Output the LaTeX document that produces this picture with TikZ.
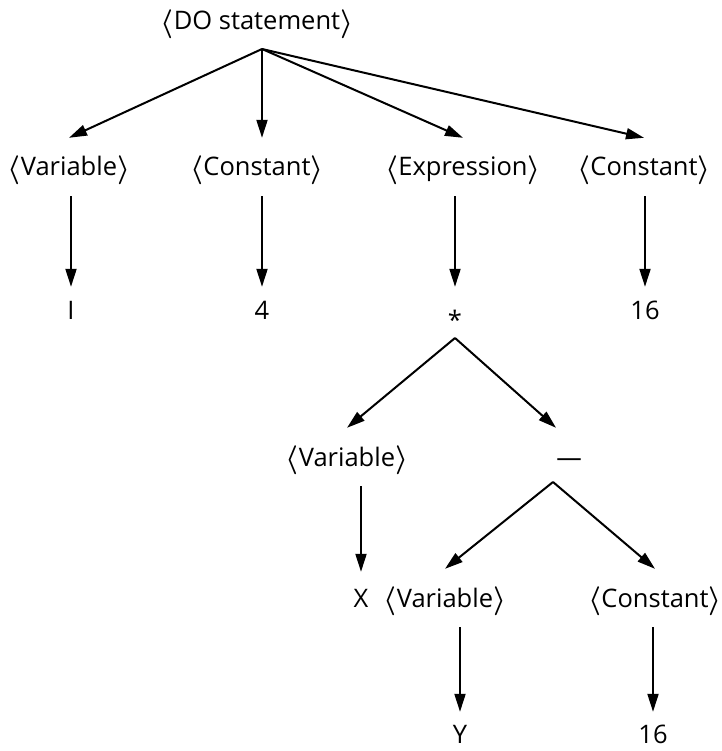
\documentclass[tikz,border=0pt]{standalone}
\usepackage{fontspec}
\setmainfont{Open Sans}
\usepackage{graphicx}
\usetikzlibrary{arrows.meta}

% angle brackets of a fixed height, centred a little below the middle of the capitals
\newsavebox\brbox
\newcommand{\angbr}[1]{%
  \sbox\brbox{\resizebox*{!}{29pt}{\boldmath$#1$}}%
  \raisebox{\dimexpr 6pt-0.5\ht\brbox+0.5\dp\brbox\relax}{\usebox\brbox}}
\newcommand{\catL}{\angbr{\langle}}
\newcommand{\catR}{\angbr{\rangle}}
\newcommand{\cat}[1]{\catL#1\catR}

\tikzset{
  lbl/.style={font=\fontsize{25.5}{29}\selectfont, inner sep=0pt,
              text height=18pt, text depth=0pt},
  nt/.style={lbl, minimum height=58pt},
  leaf/.style={lbl, minimum height=46pt},
  arr/.style={line width=2pt, -{Triangle[length=18pt,width=11pt]}},
}

\begin{document}
\begin{tikzpicture}[x=1pt, y=-1pt]
  \useasboundingbox (0,0) rectangle (721,751);

  % root and its fan-out point
  \node[lbl] (root) at (257,21) {\cat{DO statement}};
  \coordinate (top) at (262,49);

  % first level
  \node[nt] (var1)  at (69,167)  {\cat{Variable}};
  \node[nt] (con1)  at (257,167) {\cat{Constant}};
  \node[nt] (expr)  at (463,167) {\cat{Expression}};
  \node[nt] (con2)  at (644,167) {\cat{Constant}};

  % second level
  \node[leaf] (i)     at (71,310)  {I};
  \node[leaf] (four)  at (262,310) {4};
  \node[leaf] (star)  at (455,310) {\raisebox{-10pt}{*}};
  \node[leaf] (sixa)  at (645,310) {16};
  \coordinate (stapex) at (455,338);

  % product operands
  \node[nt] (var3)  at (347,457) {\cat{Variable}};
  \node[nt] (minus) at (569,457) {—};
  \coordinate (mapex) at (553,482);

  \node[lbl, minimum height=52pt] (x) at (361,598) {X};
  \node[nt] (var4) at (445,598) {\cat{Variable}};
  \node[nt] (con4) at (655,598) {\cat{Constant}};

  \node[lbl, minimum height=44pt] (y)    at (460,734) {Y};
  \node[lbl, minimum height=44pt] (sixb) at (653,734) {16};

  % connectors
  \draw[arr] (top) -- (var1.north);
  \draw[arr] (top) -- (top |- con1.north);
  \draw[arr] (top) -- (expr.north);
  \draw[arr] (top) -- (con2.north);

  \draw[arr] (i    |- var1.south) -- (i.north);
  \draw[arr] (four |- con1.south) -- (four.north);
  \draw[arr] (star |- expr.south) -- (star.north);
  \draw[arr] (sixa |- con2.south) -- (sixa.north);

  \draw[arr] (stapex) -- (var3.north);
  \draw[arr] (stapex) -- (minus.north west);

  \draw[arr] (x |- var3.south) -- (x.north);
  \draw[arr] (mapex) -- (var4.north);
  \draw[arr] (mapex) -- (con4.north);

  \draw[arr] (y    |- var4.south) -- (y.north);
  \draw[arr] (sixb |- con4.south) -- (sixb.north);
\end{tikzpicture}
\end{document}
